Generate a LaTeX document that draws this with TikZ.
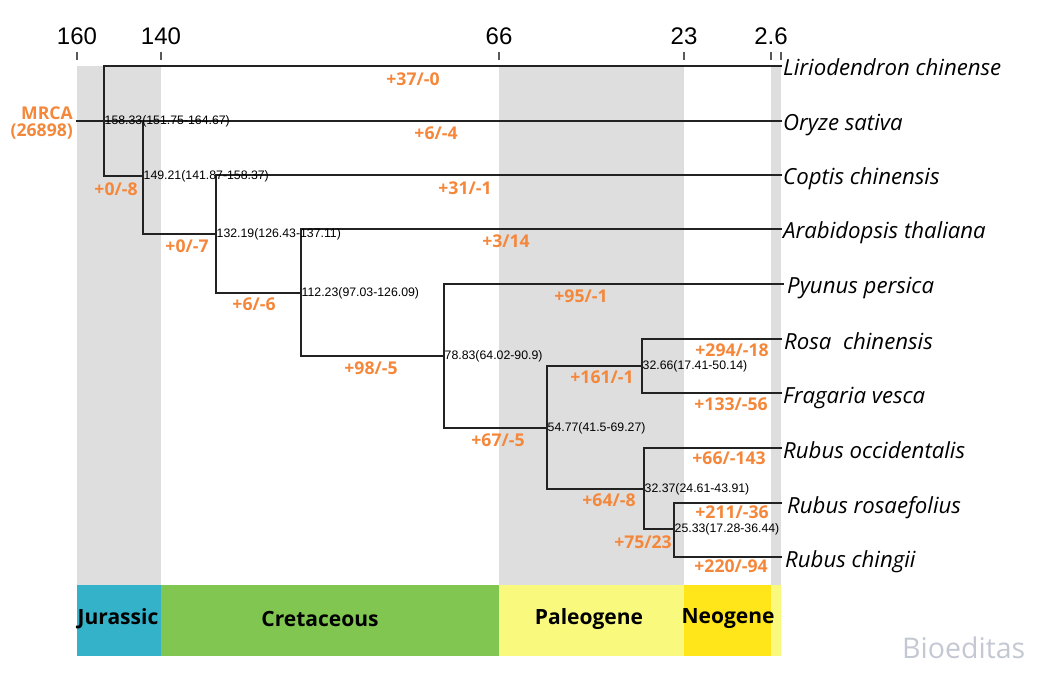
\documentclass[tikz,border=0pt]{standalone}
\usepackage{fontspec}
\setmainfont{Liberation Sans}
\newfontfamily\osans{Open Sans}
\definecolor{orng}{HTML}{F5873A}
\definecolor{band}{HTML}{DEDEDE}
\definecolor{jur}{HTML}{33B2CA}
\definecolor{cre}{HTML}{80C650}
\definecolor{pal}{HTML}{F9F97D}
\definecolor{neo}{HTML}{FFE61A}
\definecolor{wm}{HTML}{C4C8D2}
\definecolor{ln}{HTML}{222222}
\begin{document}
\begin{tikzpicture}[x=1pt,y=-1pt,
  br/.style={draw=ln,line width=1.9pt,line cap=rect},
  tick/.style={draw=black!65,line width=1.1pt},
  axl/.style={font=\fontsize{24}{24}\selectfont,inner sep=0pt},
  age/.style={anchor=west,inner sep=0.5pt,font=\fontsize{12.3}{12.3}\selectfont},
  gain/.style={text=orng,inner sep=0pt,font=\osans\bfseries\fontsize{17.6}{17.6}\selectfont},
  leaf/.style={anchor=base west,inner sep=0pt,font=\osans\itshape\fontsize{22.2}{22.2}\selectfont},
  per/.style={inner sep=0pt,font=\osans\bfseries\fontsize{21}{21}\selectfont}]
\useasboundingbox (0,0) rectangle (1038,684);
% background bands
\fill[band] (77,66) rectangle (161,585);
\fill[band] (499,66) rectangle (684,585);
\fill[band] (771,66) rectangle (781,585);
% period bar
\fill[jur] (77,585) rectangle (161,656);
\fill[cre] (161,585) rectangle (499,656);
\fill[pal] (499,585) rectangle (684,656);
\fill[neo] (684,585) rectangle (771,656);
\fill[pal] (771,585) rectangle (781,656);
\node[per] (pj) at (118,619) {Jurassic};
\node[per] (pc) at (320,619) {Cretaceous};
\node[per] (pp) at (589,619) {Paleogene};
\node[per] (pn) at (728,619) {Neogene};
% axis
\node[axl] (t160) at (77,36) {160};
\node[axl] (t140) at (161,36) {140};
\node[axl] (t66) at (499,36) {66};
\node[axl] (t23) at (684,36) {23};
\node[axl] (t26) at (771,36) {2.6};
\draw[tick] (77,52) -- (77,60);
\draw[tick] (161,52) -- (161,60);
\draw[tick] (499,52) -- (499,60);
\draw[tick] (684,52) -- (684,60);
\draw[tick] (771,52) -- (771,60);
\draw[tick] (781,52) -- (781,60);
% coordinates
\coordinate (r) at (77,121);
\coordinate (a) at (104,121);
\coordinate (aT) at (104,66);
\coordinate (aB) at (104,176);
\coordinate (b) at (143,176);
\coordinate (bT) at (143,121);
\coordinate (bB) at (143,234);
\coordinate (c) at (216,234);
\coordinate (cT) at (216,175);
\coordinate (cB) at (216,293);
\coordinate (d) at (301,293);
\coordinate (dT) at (301,229);
\coordinate (dB) at (301,356);
\coordinate (e) at (444,356);
\coordinate (eT) at (444,284);
\coordinate (eB) at (444,428);
\coordinate (f) at (547,428);
\coordinate (fT) at (547,366);
\coordinate (fB) at (547,489);
\coordinate (g) at (642,366);
\coordinate (gT) at (642,339);
\coordinate (gB) at (642,393);
\coordinate (h) at (644,489);
\coordinate (hT) at (644,448);
\coordinate (hB) at (644,529);
\coordinate (k) at (674,529);
\coordinate (kT) at (674,503);
\coordinate (kB) at (674,557);
% leaf end points
\coordinate (L1) at (781,66);
\coordinate (L2) at (781,121);
\coordinate (L3) at (781,175);
\coordinate (L4) at (781,229);
\coordinate (L5) at (783,284);
\coordinate (L6) at (781,339);
\coordinate (L7) at (781,393);
\coordinate (L8) at (781,448);
\coordinate (L9) at (781,503);
\coordinate (L10) at (781,557);
% branches
\draw[br] (aT) -- (L1);
\draw[br] (r) -- (L2);
\draw[br] (aT) -- (aB) -- (b);
\draw[br] (bT) -- (bB) -- (c);
\draw[br] (cT) -- (L3);
\draw[br] (cT) -- (cB) -- (d);
\draw[br] (dT) -- (L4);
\draw[br] (dT) -- (dB) -- (e);
\draw[br] (eT) -- (L5);
\draw[br] (eT) -- (eB) -- (f);
\draw[br] (fT) -- (g);
\draw[br] (fT) -- (fB) -- (h);
\draw[br] (gT) -- (L6);
\draw[br] (gT) -- (gB) -- (L7);
\draw[br] (hT) -- (L8);
\draw[br] (hT) -- (hB) -- (k);
\draw[br] (kT) -- (L9);
\draw[br] (kT) -- (kB) -- (L10);
% node ages
\node[age] (ga) at (a) {158.33(151.75-164.67)};
\node[age] (gb) at (b) {149.21(141.87-158.37)};
\node[age] (gc) at (c) {132.19(126.43-137.11)};
\node[age] (gd) at (d) {112.23(97.03-126.09)};
\node[age] (ge) at (e) {78.83(64.02-90.9)};
\node[age] (gf) at (f) {54.77(41.5-69.27)};
\node[age] (gg) at (g) {32.66(17.41-50.14)};
\node[age] (gh) at (h) {32.37(24.61-43.91)};
\node[age] (gk) at (k) {25.33(17.28-36.44)};
% leaves
\node[leaf] (s1) at (783,76) {Liriodendron chinense};
\node[leaf] (s2) at (783,131) {Oryze sativa};
\node[leaf] (s3) at (783,185) {Coptis chinensis};
\node[leaf] (s4) at (783,239) {Arabidopsis thaliana};
\node[leaf] (s5) at (787,294) {Pyunus persica};
\node[leaf] (s6) at (784,349) {Rosa\ \ chinensis};
\node[leaf] (s7) at (783,403) {Fragaria vesca};
\node[leaf] (s8) at (783,458) {Rubus occidentalis};
\node[leaf] (s9) at (787,513) {Rubus rosaefolius};
\node[leaf] (s10) at (785,567) {Rubus chingii};
% gains / losses
\node[gain,align=right,anchor=east] (mrca) at (73,123) {MRCA\\[-1pt](26898)};
\node[gain] (x1) at (413,79) {+37/-0};
\node[gain] (x2) at (436,133) {+6/-4};
\node[gain] (x3) at (465,188) {+31/-1};
\node[gain] (x4) at (506,241) {+3/14};
\node[gain] (x5) at (116,189) {+0/-8};
\node[gain] (x6) at (187,246) {+0/-7};
\node[gain] (x7) at (254,304) {+6/-6};
\node[gain] (x8) at (371,368) {+98/-5};
\node[gain] (x9) at (581,296) {+95/-1};
\node[gain] (x10) at (732,350) {+294/-18};
\node[gain] (x11) at (602,377) {+161/-1};
\node[gain] (x12) at (731,404) {+133/-56};
\node[gain] (x13) at (498,440) {+67/-5};
\node[gain] (x14) at (729,458) {+66/-143};
\node[gain] (x15) at (609,500) {+64/-8};
\node[gain] (x16) at (732,512) {+211/-36};
\node[gain] (x17) at (643,542) {+75/23};
\node[gain] (x18) at (731,566) {+220/-94};
% watermark
\node[text=wm,anchor=base west,inner sep=0pt,font=\osans\fontsize{28.5}{28.5}\selectfont] (wmk) at (902,658) {Bioeditas};
\end{tikzpicture}
\end{document}
